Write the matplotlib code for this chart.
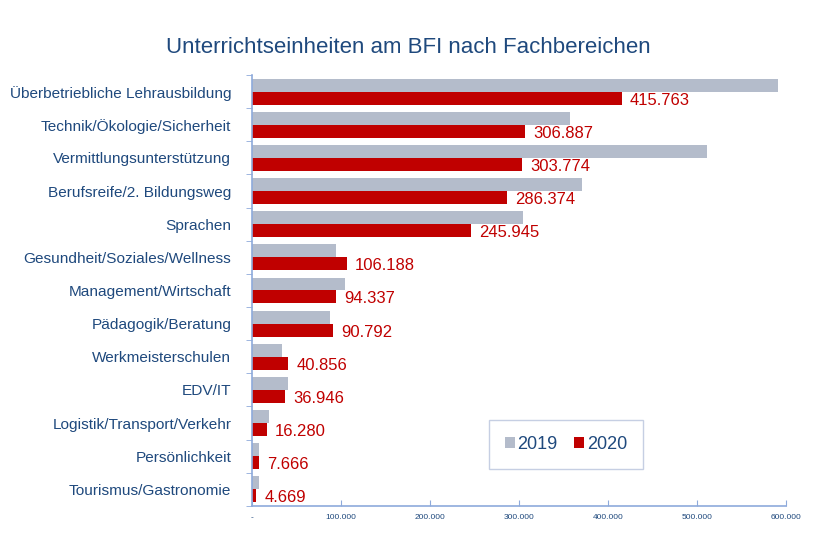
import numpy as np
import matplotlib
matplotlib.use('Agg')
import matplotlib.pyplot as plt

plt.rcParams['font.family'] = ['Liberation Sans', 'DejaVu Sans']

categories = ['Überbetriebliche Lehrausbildung', 'Technik/Ökologie/Sicherheit',
              'Vermittlungsunterstützung', 'Berufsreife/2. Bildungsweg', 'Sprachen',
              'Gesundheit/Soziales/Wellness', 'Management/Wirtschaft',
              'Pädagogik/Beratung', 'Werkmeisterschulen', 'EDV/IT',
              'Logistik/Transport/Verkehr', 'Persönlichkeit', 'Tourismus/Gastronomie']
v2019 = [591000, 357000, 511000, 371000, 304000, 94000, 104000, 87000,
         34000, 40000, 19000, 8000, 7500]
v2020 = [415763, 306887, 303774, 286374, 245945, 106188, 94337, 90792,
         40856, 36946, 16280, 7666, 4669]
xticks = [0, 100000, 200000, 300000, 400000, 500000, 600000]
xticklabels = ['-', '100.000', '200.000', '300.000', '400.000', '500.000', '600.000']

grey = '#b4bccb'
red = '#c00000'
blue = '#1f497d'
axis_col = '#8eaadb'

fig = plt.figure(figsize=(8.16, 5.44), dpi=100)
ax = fig.add_axes([0.309, 0.070, 0.654, 0.792])

n = len(categories)
y = np.arange(n)
h = 0.39
ax.barh(y - h / 2, v2019, height=h, color=grey, label='2019')
ax.barh(y + h / 2, v2020, height=h, color=red, label='2020')

for yi, val in zip(y, v2020):
    lab = '{:,}'.format(val).replace(',', '.')
    ax.text(val + 9000, yi + h / 2 + 0.06, lab, color=red, fontsize=12,
            va='center', ha='left')

ax.set_ylim(n - 0.5, -0.5)
ax.set_xlim(0, 600000)
ax.set_yticks(y)
ax.set_yticklabels(categories, color=blue, fontsize=11.1)
ax.tick_params(axis='y', length=0, pad=15)
ax.set_yticks(np.arange(-0.5, n, 1), minor=True)
ax.tick_params(axis='y', which='minor', length=4, color=axis_col, direction='out')
ax.set_xticks(xticks)
ax.set_xticklabels(xticklabels, color=blue, fontsize=6)
ax.tick_params(axis='x', length=4, color=axis_col, direction='in', pad=6)

for s in ['top', 'right']:
    ax.spines[s].set_visible(False)
for s in ['left', 'bottom']:
    ax.spines[s].set_color(axis_col)
    ax.spines[s].set_linewidth(1.2)

leg = ax.legend(loc='center', bbox_to_anchor=(0.588, 0.142),
                ncol=2, fontsize=13, frameon=True, fancybox=False,
                handlelength=0.55, handleheight=0.55, handletextpad=0.15,
                columnspacing=0.9, borderpad=0.9)
leg.get_frame().set_edgecolor('#b8c4dc')
leg.get_frame().set_linewidth(1.0)
for t in leg.get_texts():
    t.set_color(blue)

fig.text(0.5, 0.913, 'Unterrichtseinheiten am BFI nach Fachbereichen',
         ha='center', va='center', color=blue, fontsize=16)

plt.savefig('out.png', dpi=100)
